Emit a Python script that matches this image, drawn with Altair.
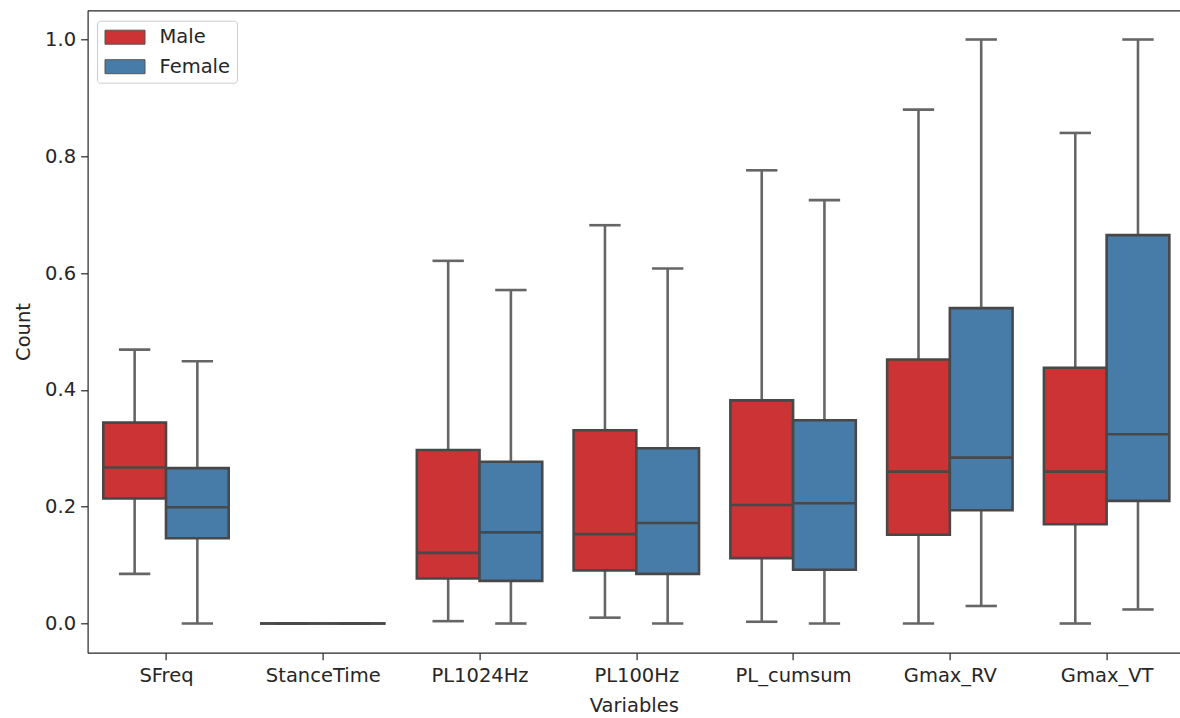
import json
import altair as alt
import pandas as pd

categories = ["SFreq", "StanceTime", "PL1024Hz", "PL100Hz", "PL_cumsum", "Gmax_RV", "Gmax_VT"]
sexes = ["Male", "Female"]
colors = ["#cb3335", "#477ca8"]

male_lower = [0.085, 0.0, 0.004, 0.010, 0.003, 0.0, 0.0]
male_q1 = [0.214, 0.0, 0.077, 0.091, 0.112, 0.152, 0.170]
male_median = [0.267, 0.0, 0.121, 0.153, 0.203, 0.260, 0.260]
male_q3 = [0.344, 0.0, 0.297, 0.331, 0.382, 0.452, 0.438]
male_upper = [0.469, 0.0, 0.621, 0.682, 0.776, 0.880, 0.840]

female_lower = [0.0, 0.0, 0.0, 0.0, 0.0, 0.030, 0.024]
female_q1 = [0.146, 0.0, 0.073, 0.085, 0.092, 0.194, 0.210]
female_median = [0.199, 0.0, 0.156, 0.172, 0.206, 0.284, 0.324]
female_q3 = [0.266, 0.0, 0.277, 0.300, 0.348, 0.540, 0.665]
female_upper = [0.449, 0.0, 0.571, 0.608, 0.725, 1.0, 1.0]

y_ticks = [0.0, 0.2, 0.4, 0.6, 0.8, 1.0]

rows = []
stats = {
    "Male": (male_lower, male_q1, male_median, male_q3, male_upper),
    "Female": (female_lower, female_q1, female_median, female_q3, female_upper),
}
for i, cat in enumerate(categories):
    for s in sexes:
        lo, q1, md, q3, up = (arr[i] for arr in stats[s])
        rows.append({"variable": cat, "idx": i, "sex": s, "lower": lo, "q1": q1,
                     "median": md, "q3": q3, "upper": up})
df = pd.DataFrame(rows)

FONT = "DejaVu Sans"
FS = 19.5
TXT = "#262626"
EDGE = "#484848"
WHISK = "#666666"
LW = 2.6

labels_js = json.dumps(categories)
x_scale = alt.Scale(domain=[-0.5, 6.468], nice=False, zero=False)
y_scale = alt.Scale(domain=[-0.05, 1.05], nice=False, zero=False)

y_axis = alt.Axis(title="Count", values=y_ticks, format=".1f", grid=False,
                  titlePadding=11, labelPadding=5)
x_axis = alt.Axis(title="Variables", values=list(range(len(categories))),
                  labelExpr=f"{labels_js}[datum.value]", grid=False, labelAngle=0,
                  titlePadding=12, labelPadding=6.5)
top_axis = alt.Axis(orient="top", title=None, labels=False, ticks=False,
                    domain=True, grid=False)

base = alt.Chart(df).transform_calculate(
    pos="datum.idx + (datum.sex == 'Male' ? -0.2 : 0.2)"
).transform_calculate(
    box_l="datum.pos - 0.2", box_r="datum.pos + 0.2",
    cap_l="datum.pos - 0.1", cap_r="datum.pos + 0.1",
)

whisk_lo = base.mark_rule(color=WHISK, strokeWidth=LW).encode(
    x=alt.X("pos:Q", scale=x_scale, axis=top_axis),
    y=alt.Y("lower:Q", scale=y_scale, axis=y_axis),
    y2="q1:Q",
)
whisk_hi = base.mark_rule(color=WHISK, strokeWidth=LW).encode(
    x=alt.X("pos:Q", scale=x_scale, axis=None),
    y=alt.Y("q3:Q", scale=y_scale, axis=y_axis),
    y2="upper:Q",
)
cap_lo = base.mark_rule(color=WHISK, strokeWidth=LW).encode(
    x=alt.X("cap_l:Q", scale=x_scale, axis=None),
    x2="cap_r:Q",
    y=alt.Y("lower:Q", scale=y_scale, axis=y_axis),
)
cap_hi = base.mark_rule(color=WHISK, strokeWidth=LW).encode(
    x=alt.X("cap_l:Q", scale=x_scale, axis=None),
    x2="cap_r:Q",
    y=alt.Y("upper:Q", scale=y_scale, axis=y_axis),
)
boxes = base.mark_rect(stroke=EDGE, strokeWidth=LW).encode(
    x=alt.X("box_l:Q", scale=x_scale, axis=x_axis),
    x2="box_r:Q",
    y=alt.Y("q1:Q", scale=y_scale, axis=y_axis),
    y2="q3:Q",
    color=alt.Color(
        "sex:N",
        scale=alt.Scale(domain=sexes, range=colors),
        legend=alt.Legend(
            title=None, orient="none", legendX=9.4, legendY=10.4,
            padding=6, strokeColor="#cccccc", fillColor="white", cornerRadius=3,
            symbolType="M-2,-0.7L2,-0.7L2,0.7L-2,0.7Z", symbolSize=400,
            symbolStrokeColor="#555555", symbolStrokeWidth=1, symbolOpacity=1,
            symbolOffset=11.5, labelOffset=24, rowPadding=9.5,
            labelFont=FONT, labelFontSize=FS, labelColor=TXT,
        ),
    ),
)
medians = base.mark_rule(color=EDGE, strokeWidth=LW).encode(
    x=alt.X("box_l:Q", scale=x_scale, axis=None),
    x2="box_r:Q",
    y=alt.Y("median:Q", scale=y_scale, axis=y_axis),
)

chart = alt.layer(whisk_lo, whisk_hi, cap_lo, cap_hi, boxes, medians).resolve_axis(
    x="independent"
).properties(
    width=1092.4, height=642.4,
    autosize=alt.AutoSizeParams(type="none"),
    padding={"left": 87.6, "top": 10.3, "right": 0, "bottom": 65.3},
    background="white",
).configure_view(stroke=None).configure_axis(
    labelFont=FONT, labelFontSize=FS, labelColor=TXT,
    titleFont=FONT, titleFontSize=FS, titleColor=TXT, titleFontWeight="normal",
    domainColor=TXT, domainWidth=1.2, tickColor=TXT, tickWidth=1.2, tickSize=7,
)

chart.save("out.html", embed_options={"renderer": "svg", "actions": False})
